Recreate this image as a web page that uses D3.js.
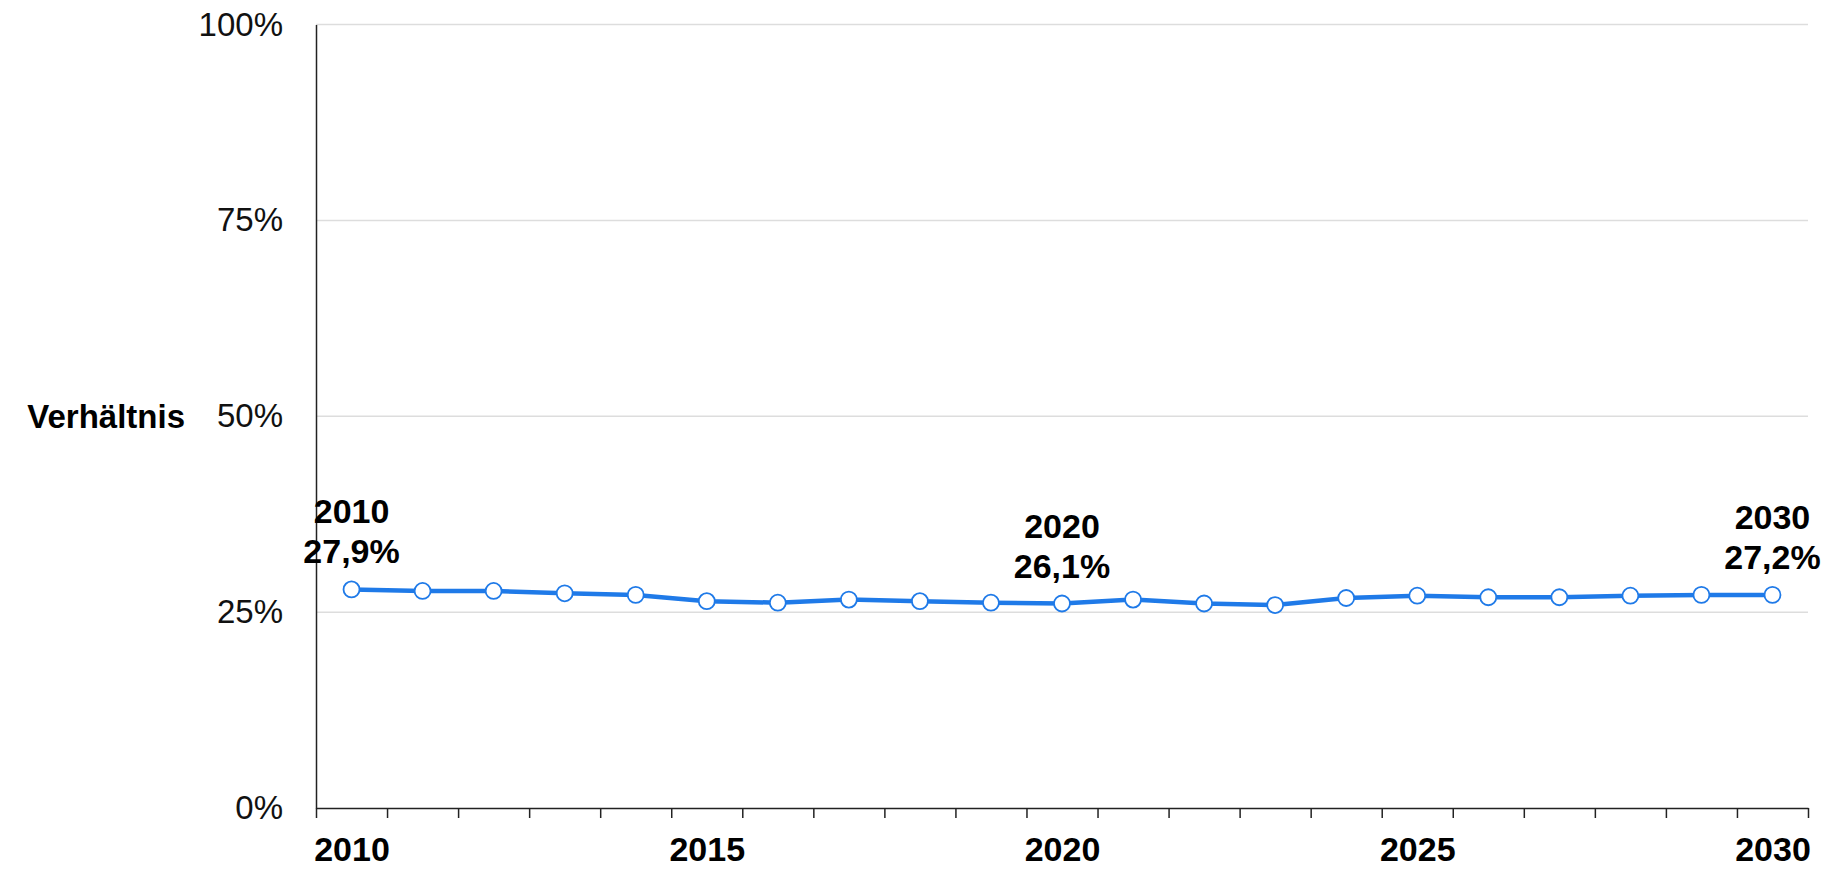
<!DOCTYPE html>
<html>
<head>
<meta charset="utf-8">
<script src="https://cdn.jsdelivr.net/npm/d3@7"></script>
<style>
    body { margin: 0; background: #fff; }
    svg { display: block; font-family: "Liberation Sans", Arial, sans-serif; }
</style>
</head>
<body>
<svg class="line-graph"></svg>
<script>
YEARS = [2010, 2011, 2012, 2013, 2014, 2015, 2016, 2017, 2018, 2019, 2020,
         2021, 2022, 2023, 2024, 2025, 2026, 2027, 2028, 2029, 2030];
RATIO = [27.9, 27.7, 27.7, 27.4, 27.2, 26.4, 26.2, 26.6, 26.4, 26.2, 26.1,
         26.6, 26.1, 25.9, 26.8, 27.1, 26.9, 26.9, 27.1, 27.2, 27.2];
X_TICK_LABELS = [2010, 2015, 2020, 2025, 2030];
Y_TICKS = [0, 25, 50, 75, 100];
ANNOTATED_YEARS = [2010, 2020, 2030];
Y_TITLE = "Verhältnis";

SVG_WIDTH = 1829;
SVG_HEIGHT = 870;
CHART_MARGIN = {top: 24.5, right: 21, bottom: 62, left: 316};
CHART_WIDTH = SVG_WIDTH - CHART_MARGIN.left - CHART_MARGIN.right;
CHART_HEIGHT = SVG_HEIGHT - CHART_MARGIN.top - CHART_MARGIN.bottom;

LINE_COLOR = "#1f7ae8";
FONT_SIZE = 33;
BOLD_SIZE = 34;

function fmt(v) {
    return v.toFixed(1).replace(".", ",") + "%";
}

function buildChart() {
    data = YEARS.map(function(y, i) { return {year: y, value: RATIO[i]}; });
    svg = d3.select(".line-graph")
        .attr("width", SVG_WIDTH)
        .attr("height", SVG_HEIGHT);
    g = svg.append("g")
        .attr("transform", "translate(" + CHART_MARGIN.left + "," + CHART_MARGIN.top + ")");

    x = d3.scaleLinear()
        .domain([YEARS[0] - 0.5, YEARS[YEARS.length - 1] + 0.5])
        .range([0, CHART_WIDTH]);
    y = d3.scaleLinear()
        .domain([0, 100])
        .range([CHART_HEIGHT, 0]);

    addGrid(g, y);
    addYAxis(g, y);
    addXAxis(g, x);
    addLine(g, data, x, y);
    addDots(g, data, x, y);
    addAnnotations(g, data, x, y);
}

function addGrid(g, y) {
    g.append("g")
        .selectAll("line")
        .data(Y_TICKS.filter(function(d) { return d > 0; }))
        .enter().append("line")
        .attr("x1", 0)
        .attr("x2", CHART_WIDTH)
        .attr("y1", function(d) { return y(d); })
        .attr("y2", function(d) { return y(d); })
        .attr("stroke", "#dddddd")
        .attr("stroke-width", 1.5);
}

function addYAxis(g, y) {
    axis = g.append("g")
        .call(d3.axisLeft(y)
            .tickValues(Y_TICKS)
            .tickSize(0)
            .tickPadding(33)
            .tickFormat(function(d) { return d + "%"; }));
    axis.select(".domain")
        .attr("stroke", "#222")
        .attr("stroke-width", 1.5);
    axis.selectAll("text")
        .attr("font-family", "Liberation Sans, Arial, sans-serif")
        .attr("font-size", FONT_SIZE)
        .attr("fill", "#111");

    g.append("text")
        .attr("x", 185 - CHART_MARGIN.left)
        .attr("y", y(50))
        .attr("dy", "0.35em")
        .attr("text-anchor", "end")
        .attr("font-size", FONT_SIZE)
        .attr("font-weight", "bold")
        .attr("fill", "#000")
        .text(Y_TITLE);
}

function addXAxis(g, x) {
    // tick marks sit on the boundaries between years
    bounds = YEARS.map(function(d) { return d - 0.5; });
    bounds.push(YEARS[YEARS.length - 1] + 0.5);
    ticks = g.append("g")
        .attr("transform", "translate(0," + CHART_HEIGHT + ")")
        .call(d3.axisBottom(x)
            .tickValues(bounds)
            .tickSizeInner(10)
            .tickSizeOuter(0)
            .tickFormat(""));
    ticks.selectAll("line, path")
        .attr("stroke", "#222")
        .attr("stroke-width", 1.5);

    labels = g.append("g")
        .attr("transform", "translate(0," + CHART_HEIGHT + ")")
        .call(d3.axisBottom(x)
            .tickValues(X_TICK_LABELS)
            .tickSize(0)
            .tickPadding(29)
            .tickFormat(d3.format("d")));
    labels.select(".domain").remove();
    labels.selectAll("text")
        .attr("font-family", "Liberation Sans, Arial, sans-serif")
        .attr("font-size", BOLD_SIZE)
        .attr("font-weight", "bold")
        .attr("fill", "#000");
}

function addLine(g, data, x, y) {
    g.append("path")
        .datum(data)
        .attr("fill", "none")
        .attr("stroke", LINE_COLOR)
        .attr("stroke-width", 4.5)
        .attr("stroke-linejoin", "round")
        .attr("d", d3.line()
            .x(function(d) { return x(d.year); })
            .y(function(d) { return y(d.value); }));
}

function addDots(g, data, x, y) {
    g.selectAll(".dot")
        .data(data)
        .enter().append("circle")
        .attr("class", "dot")
        .attr("r", 8)
        .attr("cx", function(d) { return x(d.year); })
        .attr("cy", function(d) { return y(d.value); })
        .attr("fill", "#fff")
        .attr("stroke", LINE_COLOR)
        .attr("stroke-width", 1.8);
}

function addAnnotations(g, data, x, y) {
    picked = data.filter(function(d) { return ANNOTATED_YEARS.indexOf(d.year) >= 0; });
    ann = g.selectAll(".ann")
        .data(picked)
        .enter().append("text")
        .attr("class", "ann")
        .attr("text-anchor", "middle")
        .attr("font-size", BOLD_SIZE)
        .attr("font-weight", "bold")
        .attr("fill", "#000");
    ann.append("tspan")
        .attr("x", function(d) { return x(d.year); })
        .attr("y", function(d) { return y(d.value) - 66; })
        .text(function(d) { return d.year; });
    ann.append("tspan")
        .attr("x", function(d) { return x(d.year); })
        .attr("y", function(d) { return y(d.value) - 26; })
        .text(function(d) { return fmt(d.value); });
}

buildChart();
</script>
</body>
</html>
